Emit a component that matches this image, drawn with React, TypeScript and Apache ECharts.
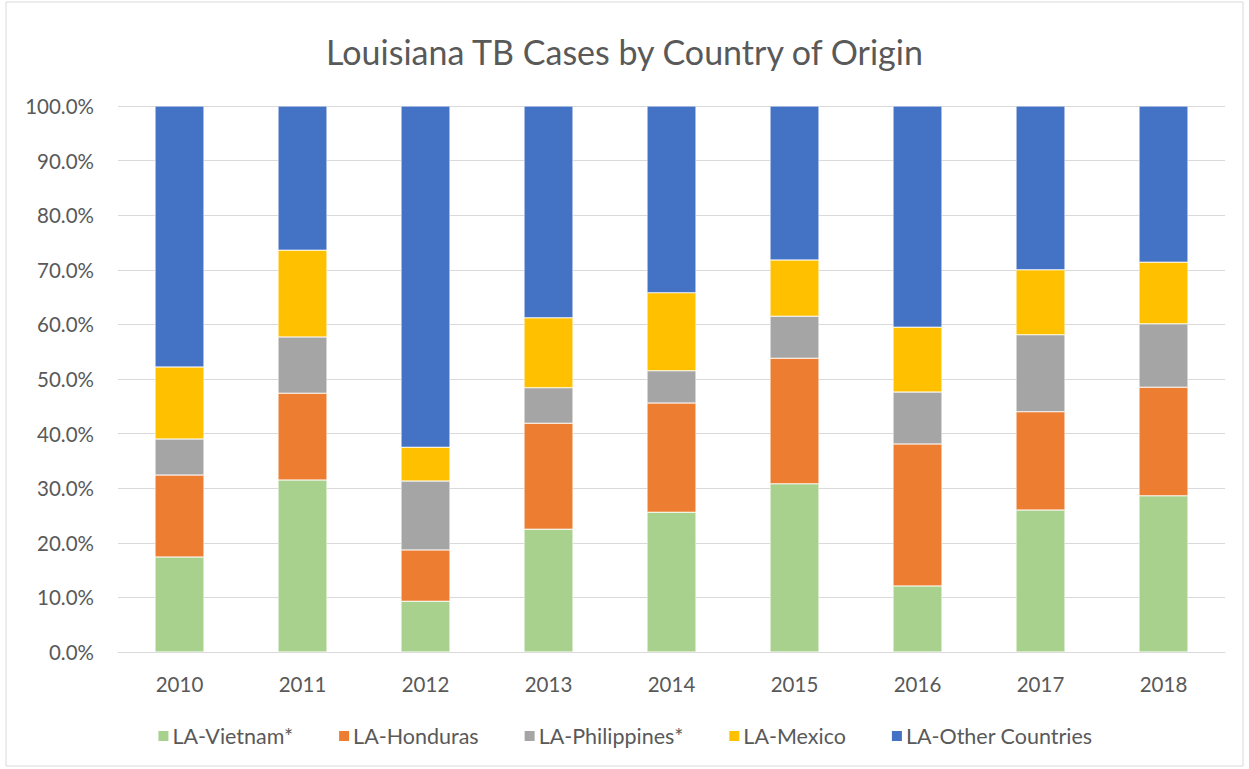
import React, { useEffect, useRef } from "react";
import * as echarts from "echarts";

const years = ["2010", "2011", "2012", "2013", "2014", "2015", "2016", "2017", "2018"];
const vietnam = [17.4, 31.5, 9.3, 22.5, 25.6, 30.8, 12.1, 26.0, 28.6];
const honduras = [15.0, 15.9, 9.4, 19.4, 20.0, 23.0, 26.0, 18.0, 19.9];
const philippines = [6.6, 10.3, 12.6, 6.5, 5.9, 7.7, 9.5, 14.1, 11.6];
const mexico = [13.2, 15.9, 6.2, 12.8, 14.3, 10.3, 11.9, 11.9, 11.3];
const other = [47.8, 26.4, 62.5, 38.8, 34.2, 28.2, 40.5, 30.0, 28.6];

const seriesDefs = [
  { name: "LA-Vietnam*", data: vietnam, color: "#A9D18E" },
  { name: "LA-Honduras", data: honduras, color: "#ED7D31" },
  { name: "LA-Philippines*", data: philippines, color: "#A5A5A5" },
  { name: "LA-Mexico", data: mexico, color: "#FFC000" },
  { name: "LA-Other Countries", data: other, color: "#4472C4" },
];

export default function App() {
  const ref = useRef<HTMLDivElement>(null);
  useEffect(() => {
    if (!ref.current) return;
    const chart = echarts.init(ref.current, undefined, { renderer: "svg" });
    const font = "Lato, 'Open Sans', sans-serif";
    chart.setOption({
      animation: false,
      backgroundColor: "#ffffff",
      textStyle: { fontFamily: font },
      title: {
        text: "Louisiana TB Cases by Country of Origin",
        left: "center",
        top: 29,
        textStyle: { fontFamily: font, fontSize: 34, fontWeight: "normal", color: "#595959" },
      },
      graphic: [
        {
          type: "rect",
          shape: { x: 6, y: 2, width: 1237, height: 764 },
          style: { fill: "none", stroke: "#D9D9D9", lineWidth: 1 },
          silent: true,
          z: -1,
        },
      ],
      legend: {
        bottom: 17,
        left: "center",
        itemWidth: 12,
        itemHeight: 12,
        itemGap: 44,
        icon: "rect",
        textStyle: { fontFamily: font, fontSize: 21.5, color: "#595959", padding: [0, 0, 0, -2] },
        data: seriesDefs.map((s) => s.name),
      },
      grid: { left: 118, right: 24, top: 106, bottom: 117, containLabel: false },
      xAxis: {
        type: "category",
        data: years,
        axisLine: { show: true, lineStyle: { color: "#D9D9D9", width: 1 } },
        axisTick: { show: false },
        axisLabel: { color: "#595959", fontSize: 20.5, fontFamily: font, margin: 21 },
      },
      yAxis: {
        type: "value",
        min: 0,
        max: 100,
        interval: 10,
        axisLine: { show: false },
        axisTick: { show: false },
        splitLine: { lineStyle: { color: "#D9D9D9", width: 1 } },
        axisLabel: {
          color: "#595959",
          fontSize: 20.5,
          fontFamily: font,
          margin: 24,
          formatter: (v: number) => v.toFixed(1) + "%",
        },
      },
      series: seriesDefs.map((s) => ({
        name: s.name,
        type: "bar",
        stack: "total",
        data: s.data,
        barWidth: 49,
        itemStyle: { color: s.color, borderColor: "#ffffff", borderWidth: 0.5 },
      })),
    });
    return () => chart.dispose();
  }, []);
  return (
    <div
      ref={ref}
      style={{ position: "fixed", left: 0, top: 0, width: 1249, height: 769 }}
    />
  );
}
